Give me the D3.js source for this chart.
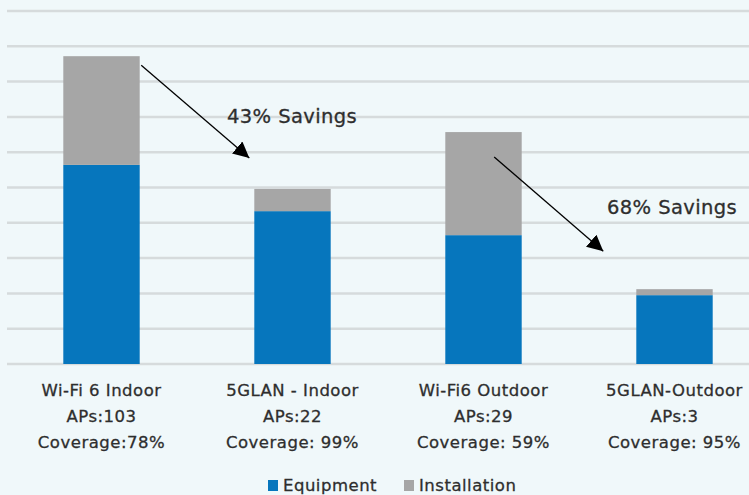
<!DOCTYPE html>
<html>
<head>
<meta charset="utf-8">
<script src="https://cdn.jsdelivr.net/npm/d3@7"></script>
<style>
  html, body { margin: 0; padding: 0; background: #f0f8fa; }
  svg { display: block; font-family: "DejaVu Sans", sans-serif; }
  text { stroke: #2e2e2e; stroke-width: 0.3px; }
</style>
</head>
<body>
<script>
const width = 749, height = 495;

// chart data
const categories = ["Wi-Fi 6 Indoor", "5GLAN - Indoor", "Wi-Fi6 Outdoor", "5GLAN-Outdoor"];
const apLabels = ["APs:103", "APs:22", "APs:29", "APs:3"];
const coverageLabels = ["Coverage:78%", "Coverage: 99%", "Coverage: 59%", "Coverage: 95%"];
const equipment = [5.64, 4.33, 3.65, 1.95];
const installation = [3.08, 0.63, 2.92, 0.17];
const seriesNames = ["Equipment", "Installation"];
const seriesColors = ["#0676bd", "#a6a6a6"];
const yTicks = [0, 1, 2, 3, 4, 5, 6, 7, 8, 9, 10];
// arrows go from one bar to the next one, with the savings text
const savings = [
  { from: 0, to: 1, label: "43% Savings" },
  { from: 2, to: 3, label: "68% Savings" }
];

const rows = categories.map((c, i) => ({
  cat: c, Equipment: equipment[i], Installation: installation[i]
}));

const svg = d3.select("body").append("svg")
  .attr("width", width)
  .attr("height", height);

const x = d3.scaleBand()
  .domain(categories)
  .range([6, 770])
  .paddingInner(0.6)
  .paddingOuter(0.3);

const y = d3.scaleLinear().domain([0, 10]).range([364, 11]);

// gridlines
svg.append("g")
  .selectAll("line")
  .data(yTicks)
  .join("line")
  .attr("x1", 7).attr("x2", width)
  .attr("y1", d => y(d)).attr("y2", d => y(d))
  .attr("stroke", "#d6dbdc")
  .attr("stroke-width", 2.5);

// stacked bars
const stack = d3.stack().keys(seriesNames)(rows);
svg.append("g")
  .selectAll("g")
  .data(stack)
  .join("g")
  .attr("fill", (d, i) => seriesColors[i])
  .selectAll("rect")
  .data(d => d)
  .join("rect")
  .attr("x", d => x(d.data.cat))
  .attr("width", x.bandwidth())
  .attr("y", d => y(d[1]))
  .attr("height", d => y(d[0]) - y(d[1]));

// category labels (three lines)
const lab = svg.append("g")
  .attr("fill", "#2e2e2e")
  .attr("font-size", 16.5)
  .attr("letter-spacing", 0.5)
  .attr("text-anchor", "middle");
[categories, apLabels, coverageLabels].forEach((lines, k) => {
  lab.selectAll(null)
    .data(lines)
    .join("text")
    .attr("x", (d, i) => x(categories[i]) + x.bandwidth() / 2)
    .attr("y", 396 + k * 26)
    .text(d => d);
});

// arrow marker
svg.append("defs").append("marker")
  .attr("id", "head")
  .attr("viewBox", "0 0 10 10")
  .attr("refX", 10).attr("refY", 5)
  .attr("markerWidth", 16).attr("markerHeight", 16)
  .attr("markerUnits", "userSpaceOnUse")
  .attr("orient", "auto")
  .append("path")
  .attr("d", "M0,0 L10,5 L0,10 z")
  .attr("fill", "#000");

const totals = rows.map(r => r.Equipment + r.Installation);
const ann = svg.append("g");
savings.forEach((s, k) => {
  const xa = x(categories[s.from]) + x.bandwidth() * (k === 0 ? 1.02 : 0.64);
  const ya = y(totals[s.from]) + (k === 0 ? 9 : 25);
  const xb = x(categories[s.to]) - 5 - (k === 0 ? 0 : 28);
  const yb = y(totals[s.to]) - 31 - (k === 0 ? 0 : 7);
  ann.append("line")
    .attr("x1", xa).attr("y1", ya)
    .attr("x2", xb).attr("y2", yb)
    .attr("stroke", "#000")
    .attr("stroke-width", 1.3)
    .attr("marker-end", "url(#head)");
});
ann.selectAll("text")
  .data(savings)
  .join("text")
  .attr("x", (d, i) => i === 0 ? 227 : 607)
  .attr("y", (d, i) => i === 0 ? 123 : 214)
  .attr("fill", "#2e2e2e")
  .attr("font-size", 19.5)
  .attr("letter-spacing", 0.4)
  .text(d => d.label);

// legend
const leg = svg.append("g")
  .attr("font-size", 16.5)
  .attr("letter-spacing", 0.5)
  .attr("fill", "#2e2e2e");
const legX = [268, 404];
seriesNames.forEach((n, i) => {
  leg.append("rect")
    .attr("x", legX[i]).attr("y", 480)
    .attr("width", 10).attr("height", 11)
    .attr("fill", seriesColors[i]);
  leg.append("text")
    .attr("x", legX[i] + 15).attr("y", 491)
    .text(n);
});
</script>
</body>
</html>
